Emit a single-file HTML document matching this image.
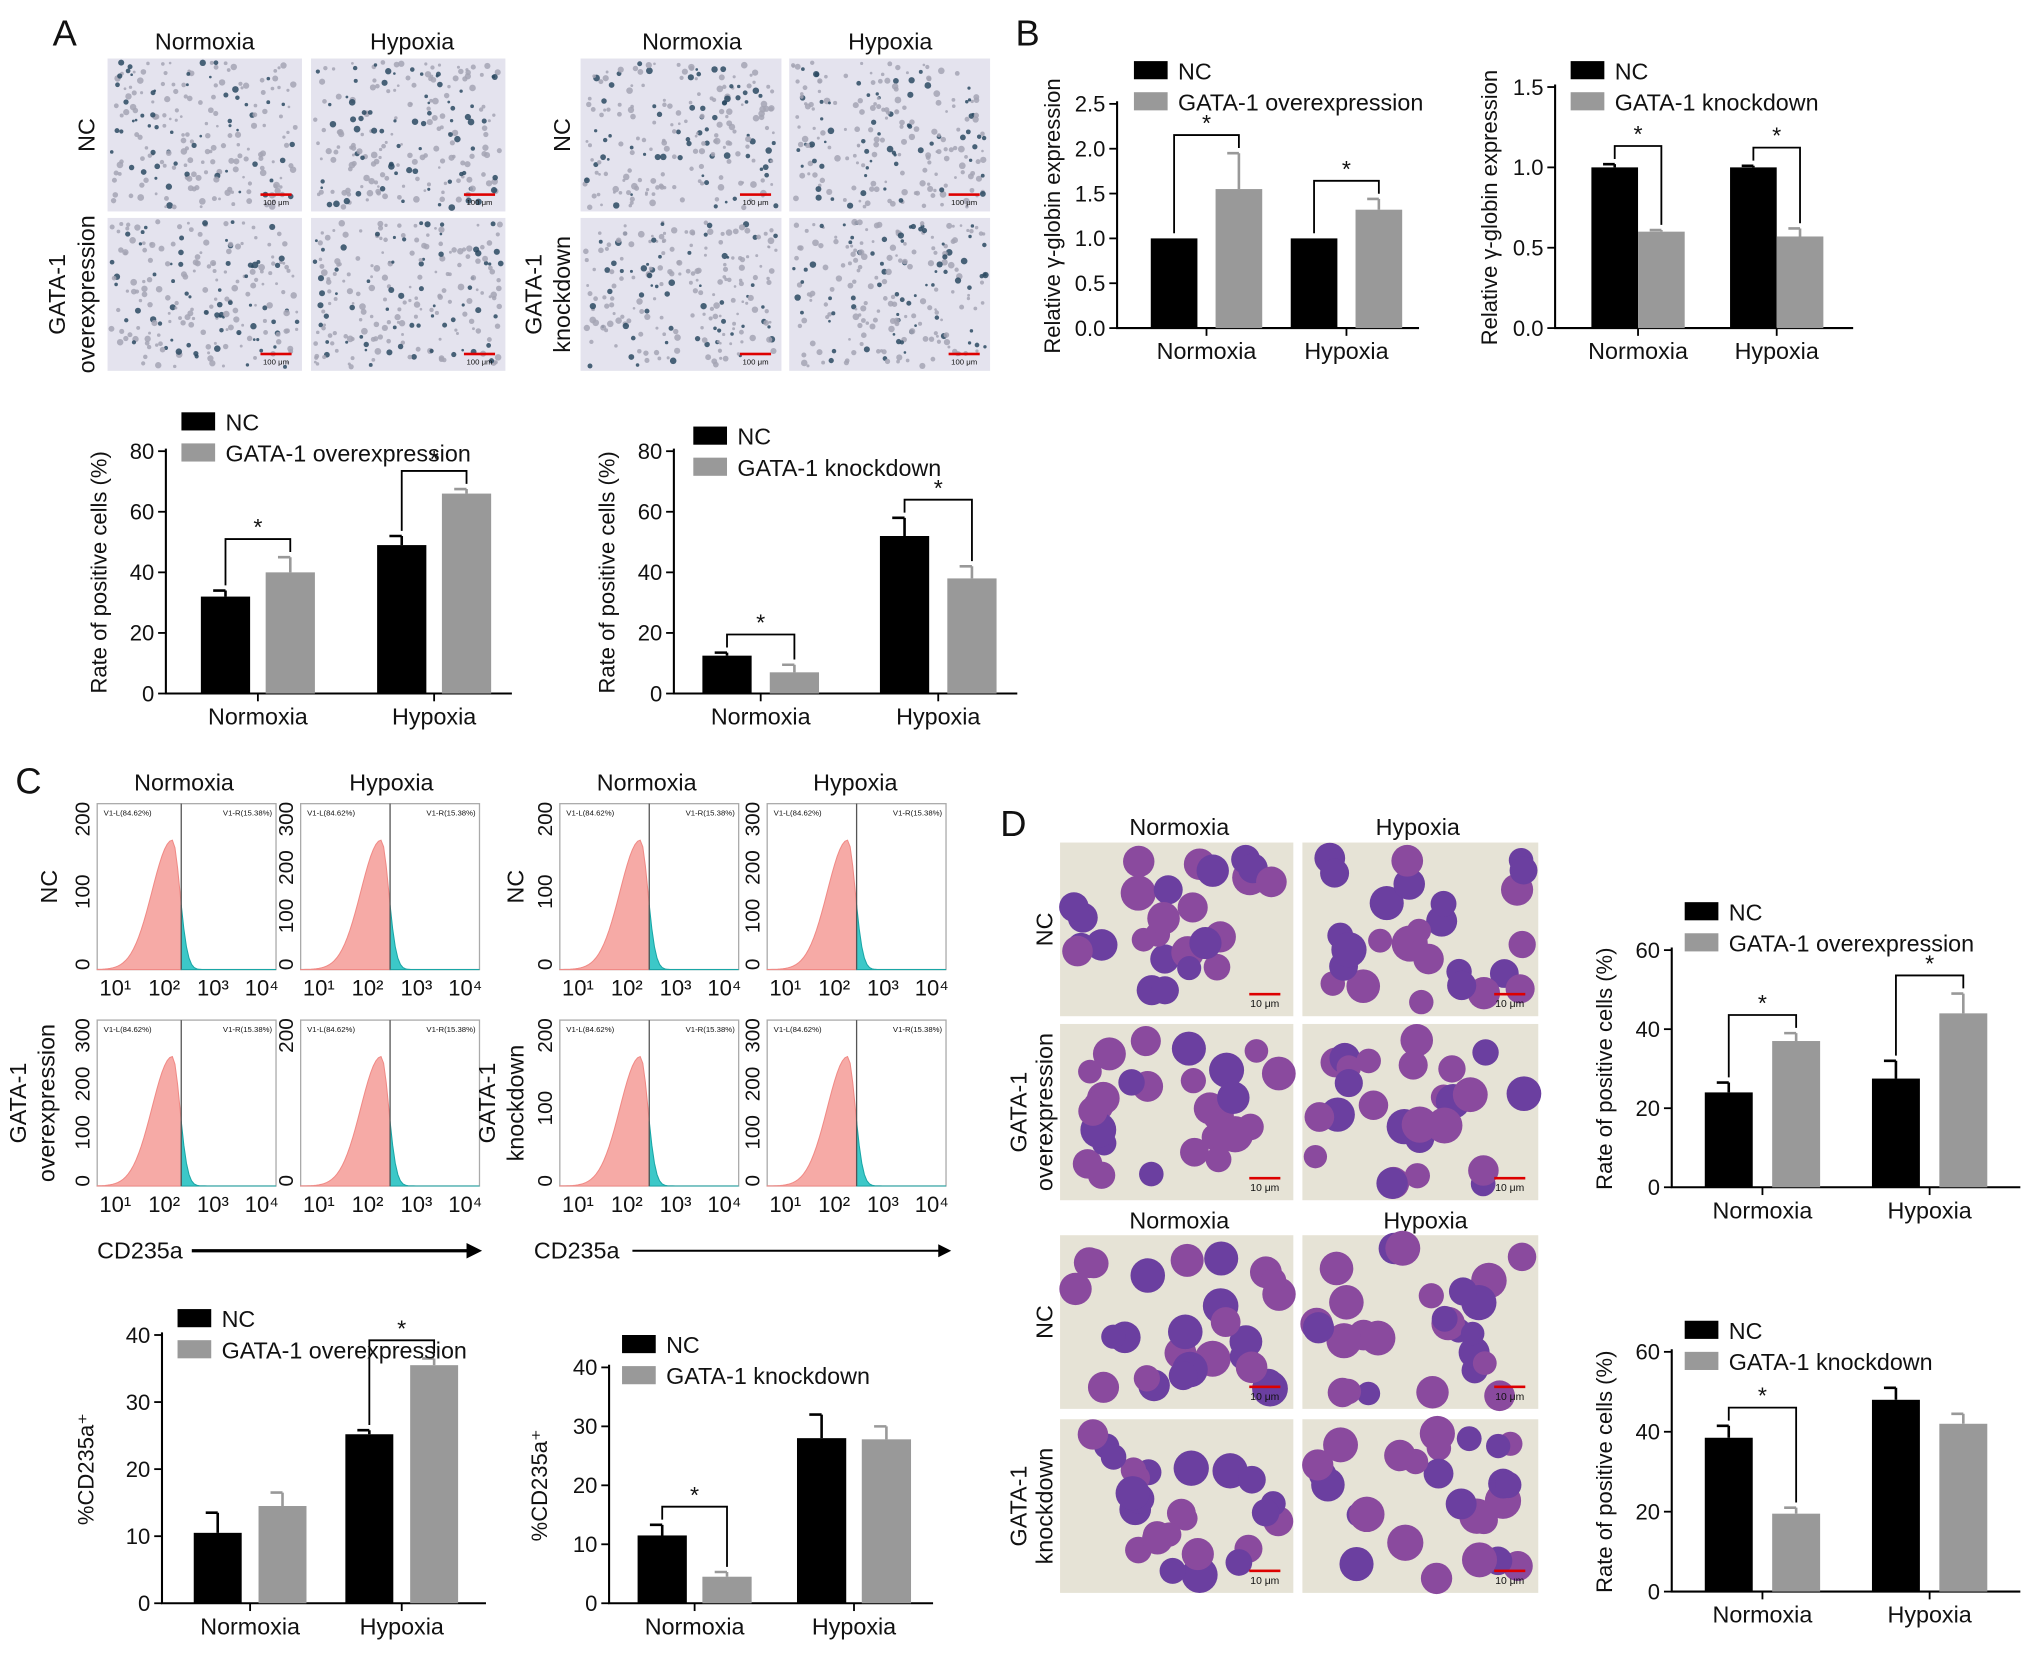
<!DOCTYPE html>
<html><head><meta charset="utf-8"><style>
html,body{margin:0;padding:0;background:#fff}
svg{display:block}
text{font-family:"Liberation Sans",sans-serif;fill:#111}
</style></head><body>
<svg id="fig" width="2032" height="1654" viewBox="0 0 1568 1276" xmlns="http://www.w3.org/2000/svg">
<g id="root"></g>
</svg>
<script>
// ---------- Chart data ----------
const categories = ["Normoxia","Hypoxia"];
// Panel A left
const aOverNC = [32, 49], aOverNCErr = [2, 3], aOverTr = [40, 66], aOverTrErr = [5, 1.5], aOverSig = [1, 1];
// Panel A right
const aKdNC = [12.5, 52], aKdNCErr = [1, 6], aKdTr = [7, 38], aKdTrErr = [2.5, 4], aKdSig = [1, 1];
const rateTicks80 = [0, 20, 40, 60, 80];
// Panel B
const bOverNC = [1.0, 1.0], bOverNCErr = [0, 0], bOverTr = [1.55, 1.32], bOverTrErr = [0.4, 0.12], bOverSig = [1, 1];
const bTicksOver = ["0.0","0.5","1.0","1.5","2.0","2.5"];
const bKdNC = [1.0, 1.0], bKdNCErr = [0.02, 0.01], bKdTr = [0.6, 0.57], bKdTrErr = [0.01, 0.05], bKdSig = [1, 1];
const bTicksKd = ["0.0","0.5","1.0","1.5"];
// Panel C
const cOverNC = [10.5, 25.2], cOverNCErr = [3, 0.6], cOverTr = [14.5, 35.5], cOverTrErr = [2, 1], cOverSig = [0, 1];
const cKdNC = [11.5, 28], cKdNCErr = [1.8, 4], cKdTr = [4.5, 27.8], cKdTrErr = [0.8, 2.2], cKdSig = [1, 0];
const cTicks = [0, 10, 20, 30, 40];
// Panel D
const dOverNC = [24, 27.5], dOverNCErr = [2.5, 4.5], dOverTr = [37, 44], dOverTrErr = [2, 5], dOverSig = [1, 1];
const dKdNC = [38.5, 48], dKdNCErr = [3, 3], dKdTr = [19.5, 42], dKdTrErr = [1.5, 2.5], dKdSig = [1, 0];
const dTicks = [0, 20, 40, 60];

const NS = "http://www.w3.org/2000/svg";
const root = document.getElementById("root");
function el(tag, attrs, parent, txt){
  const e = document.createElementNS(NS, tag);
  for (const k in attrs) e.setAttribute(k, attrs[k]);
  if (txt !== undefined) e.textContent = txt;
  (parent || root).appendChild(e);
  return e;
}
function txt(x,y,s,size,parent,anchor,rot,name){
  const t = el("text",{x:x,y:y,"font-size":size,"text-anchor":anchor||"middle"},parent,s);
  if (rot) t.setAttribute("transform","rotate("+rot+" "+x+" "+y+")");
  
  
  return t;
}

function barChart(name, L, nc, ncE, tr, trE, sig, ticks, tickLabels, maxV, ylabel, legend2){
  const g = el("g",{});
  
  
  const yS = v => L.y0 - (v / maxV) * (L.y0 - L.yTop);
  const ax = el("path",{d:`M${L.x0} ${L.yTop-2} V${L.y0} H${L.xEnd}`,stroke:"#000","stroke-width":1.6,fill:"none"},g);
  
  
  ticks.forEach((tv,i)=>{
    const y = yS(tv);
    el("line",{x1:L.x0-6,x2:L.x0,y1:y,y2:y,stroke:"#000","stroke-width":1.4},g);
    txt(L.x0-9, y+6, tickLabels[i], 17, g, "end", 0, "y-tick-label");
  });
  txt(L.ylx, (L.y0+L.yTop)/2, ylabel, 17, g, "middle", -90, "y-axis-title");
  categories.forEach((c,i)=>{
    const gc = L.centers[i];
    el("line",{x1:gc,x2:gc,y1:L.y0,y2:L.y0+6,stroke:"#000","stroke-width":1.4},g);
    txt(gc, L.y0+24, c, 18, g, "middle", 0, "x-category-label");
    const xs = [gc - L.off, gc + L.off], vals=[nc[i],tr[i]], errs=[ncE[i],trE[i]], cols=["#000","#999"];
    let tops=[];
    for (let k=0;k<2;k++){
      const yv = yS(vals[k]);
      const r = el("rect",{x:xs[k]-L.bw/2,y:yv,width:L.bw,height:L.y0-yv,fill:cols[k]},g);
      
      
      const ye = yS(vals[k]+errs[k]);
      if (errs[k]>0){
        el("path",{d:`M${xs[k]} ${yv} V${ye} M${xs[k]-L.bw/4} ${ye} H${xs[k]}`,stroke:cols[k],"stroke-width":2,fill:"none"},g);
      }
      tops.push(ye);
    }
    if (sig[i]){
      const top = Math.min(tops[0],tops[1]) - 14;
      const br = el("path",{d:`M${xs[0]} ${tops[0]-4} V${top} H${xs[1]} V${tops[1]-4}`,stroke:"#000","stroke-width":1.4,fill:"none"},g);
      
      
      txt(gc, top-3, "*", 18, g, "middle", 0, "significance-star");
    }
  });
  const lg = el("g",{},g);
  
  
  el("rect",{x:L.lx,y:L.ly-8,width:26,height:14,fill:"#000"},lg);
  txt(L.lx+34, L.ly+6, "NC", 18, lg, "start", 0, "legend-entry");
  el("rect",{x:L.lx,y:L.ly+16,width:26,height:14,fill:"#999"},lg);
  txt(L.lx+34, L.ly+30, legend2, 18, lg, "start", 0, "legend-entry");
}

// ---------- Micrographs ----------
let seed = 7;
function rnd(){ seed = (seed*16807)%2147483647; return seed/2147483647; }
function microA(x,y,w,h,name){
  const g = el("g",{});  
  el("rect",{x:x,y:y,width:w,height:h,fill:"#e4e3ee"},g);
  for(let i=0;i<220;i++){
    const dark = rnd()<0.3;
    el("circle",{cx:x+3+rnd()*(w-6),cy:y+3+rnd()*(h-6),r:1+rnd()*1.6,fill:dark?"#2c4a62":"#a4a4b4",opacity:0.85},g);
  }
  el("rect",{x:x+w-32,y:y+h-14,width:24,height:2,fill:"#d00"},g);
  el("text",{x:x+w-20,y:y+h-5,"font-size":6,"text-anchor":"middle",fill:"#d00"},g,"100 μm");
}
function microD(x,y,w,h,name){
  const g = el("g",{});  
  el("rect",{x:x,y:y,width:w,height:h,fill:"#e6e3d6"},g);
  for(let i=0;i<26;i++){
    const cx=x+10+rnd()*(w-20), cy=y+10+rnd()*(h-20), r=9+rnd()*5;
    el("circle",{cx:cx,cy:cy,r:r,fill:rnd()<0.5?"#6b3fa0":"#8a4a9e"},g);
  }
  el("rect",{x:x+w-34,y:y+h-18,width:24,height:2,fill:"#d00"},g);
  el("text",{x:x+w-22,y:y+h-7,"font-size":8,"text-anchor":"middle",fill:"#000"},g,"10 μm");
}
function flow(x,y,w,h,yl,gate,name){
  const g = el("g",{});  
  el("rect",{x:x,y:y,width:w,height:h,fill:"none",stroke:"#aaa","stroke-width":1},g);
  const gx = x + w*gate;
  const peak = x + w*(gate-0.05);
  const f = px => {
    const s = px<peak ? w*0.16 : w*0.06;
    return y+h - Math.exp(-Math.pow((px-peak)/s,2))*(h*0.78);
  };
  let dp = `M${x} ${y+h}`;
  for(let px=x; px<=gx; px+=2) dp += ` L${px} ${f(px)}`;
  dp += ` L${gx} ${f(gx)} L${gx} ${y+h} Z`;
  let dt = `M${gx} ${y+h} L${gx} ${f(gx)}`;
  for(let px=gx; px<=x+w; px+=2) dt += ` L${px} ${f(px)}`;
  dt += ` L${x+w} ${y+h} Z`;
  el("path",{d:dp,fill:"#f6aaa6",stroke:"#f08a86","stroke-width":0.8},g);
  el("path",{d:dt,fill:"#3cc8c8",stroke:"#1aa6a6","stroke-width":0.8},g);
  el("line",{x1:gx,x2:gx,y1:y,y2:y+h,stroke:"#555","stroke-width":1},g);
  el("text",{x:x+5,y:y+9,"font-size":6,fill:"#e55"},g,"V1-L(84.62%)");
  el("text",{x:x+w-3,y:y+9,"font-size":6,fill:"#2aa","text-anchor":"end"},g,"V1-R(15.38%)");
  ["10¹","10²","10³","10⁴"].forEach((s,i)=>{ txt(x+10+i*(w-25)/3+4, y+h+20, s, 17, g, "middle", 0, "x-tick-label"); });
  yl.forEach((s,i)=>{ txt(x-6, y+h-4-i*(h-10)/(yl.length-1)*0.95, s, 16, g, "middle", -90, "y-tick-label"); });
}

[["A",50,35],["B",793,35],["C",22,612],["D",782,645]].forEach(p=>txt(p[1],p[2],p[0],28,null,"middle",0,"panel-label-"+p[0].toLowerCase()));

[["Normoxia",158,38],["Hypoxia",318,38],["Normoxia",534,38],["Hypoxia",687,38]].forEach(c=>txt(c[1],c[2],c[0],18,null,"middle",0,"column-header"));
microA(83,45,150,118,"micrograph-a-nc-normoxia");microA(240,45,150,118,"micrograph-a-nc-hypoxia");
microA(83,168,150,118,"micrograph-a-over-normoxia");microA(240,168,150,118,"micrograph-a-over-hypoxia");
microA(448,45,155,118,"micrograph-a-kdnc-normoxia");microA(609,45,155,118,"micrograph-a-kdnc-hypoxia");
microA(448,168,155,118,"micrograph-a-kd-normoxia");microA(609,168,155,118,"micrograph-a-kd-hypoxia");
txt(73,104,"NC",18,null,"middle",-90,"row-label");
txt(50,227,"GATA-1",18,null,"middle",-90,"row-label");txt(73,227,"overexpression",18,null,"middle",-90,"row-label");
txt(440,104,"NC",18,null,"middle",-90,"row-label");
txt(418,227,"GATA-1",18,null,"middle",-90,"row-label");txt(440,227,"knockdown",18,null,"middle",-90,"row-label");

[["Normoxia",142,610],["Hypoxia",302,610],["Normoxia",499,610],["Hypoxia",660,610]].forEach(c=>txt(c[1],c[2],c[0],18,null,"middle",0,"column-header"));
flow(75,620,138,128,["0","100","200"],0.47,"flow-over-nc-normoxia");
flow(232,620,138,128,["0","100","200","300"],0.5,"flow-over-nc-hypoxia");
flow(432,620,138,128,["0","100","200"],0.5,"flow-kd-nc-normoxia");
flow(592,620,138,128,["0","100","200","300"],0.5,"flow-kd-nc-hypoxia");
flow(75,787,138,128,["0","100","200","300"],0.47,"flow-over-normoxia");
flow(232,787,138,128,["0","200"],0.5,"flow-over-hypoxia");
flow(432,787,138,128,["0","100","200"],0.5,"flow-kd-normoxia");
flow(592,787,138,128,["0","100","200","300"],0.5,"flow-kd-hypoxia");
txt(44,684,"NC",18,null,"middle",-90,"row-label");
txt(20,851,"GATA-1",18,null,"middle",-90,"row-label");txt(42,851,"overexpression",18,null,"middle",-90,"row-label");
txt(404,684,"NC",18,null,"middle",-90,"row-label");
txt(382,851,"GATA-1",18,null,"middle",-90,"row-label");txt(404,851,"knockdown",18,null,"middle",-90,"row-label");
txt(75,971,"CD235a",18,null,"start",0,"x-axis-title");
el("path",{d:"M148 965 H362",stroke:"#000","stroke-width":2.5});el("path",{d:"M372 965 l-12 -6 v12 z",fill:"#000"});
txt(412,971,"CD235a",18,null,"start",0,"x-axis-title");
el("path",{d:"M488 965 H725",stroke:"#000","stroke-width":1.5});el("path",{d:"M734 965 l-10 -5 v10 z",fill:"#000"});

[["Normoxia",910,644],["Hypoxia",1094,644],["Normoxia",910,948],["Hypoxia",1100,948]].forEach(c=>txt(c[1],c[2],c[0],18,null,"middle",0,"column-header"));
microD(818,650,180,134,"micrograph-d-nc-normoxia");microD(1005,650,182,134,"micrograph-d-nc-hypoxia");
microD(818,790,180,136,"micrograph-d-over-normoxia");microD(1005,790,182,136,"micrograph-d-over-hypoxia");
microD(818,953,180,134,"micrograph-d-kdnc-normoxia");microD(1005,953,182,134,"micrograph-d-kdnc-hypoxia");
microD(818,1095,180,134,"micrograph-d-kd-normoxia");microD(1005,1095,182,134,"micrograph-d-kd-hypoxia");
txt(812,717,"NC",18,null,"middle",-90,"row-label");
txt(792,858,"GATA-1",18,null,"middle",-90,"row-label");txt(812,858,"overexpression",18,null,"middle",-90,"row-label");
txt(812,1020,"NC",18,null,"middle",-90,"row-label");
txt(792,1162,"GATA-1",18,null,"middle",-90,"row-label");txt(812,1162,"knockdown",18,null,"middle",-90,"row-label");

barChart("chart-a-overexpression",{x0:128,y0:535,yTop:348,xEnd:395,centers:[199,335],off:25,bw:38,ylx:82,lx:140,ly:326},
  aOverNC,aOverNCErr,aOverTr,aOverTrErr,aOverSig,rateTicks80,rateTicks80.map(String),80,"Rate of positive cells (%)","GATA-1 overexpression");
barChart("chart-a-knockdown",{x0:520,y0:535,yTop:348,xEnd:785,centers:[587,724],off:26,bw:38,ylx:474,lx:535,ly:337},
  aKdNC,aKdNCErr,aKdTr,aKdTrErr,aKdSig,rateTicks80,rateTicks80.map(String),80,"Rate of positive cells (%)","GATA-1 knockdown");
barChart("chart-b-overexpression",{x0:862,y0:253,yTop:80,xEnd:1095,centers:[931,1039],off:25,bw:36,ylx:818,lx:875,ly:55},
  bOverNC,bOverNCErr,bOverTr,bOverTrErr,bOverSig,[0,0.5,1,1.5,2,2.5],bTicksOver,2.5,"Relative γ-globin expression","GATA-1 overexpression");
barChart("chart-b-knockdown",{x0:1200,y0:253,yTop:67,xEnd:1430,centers:[1264,1371],off:18,bw:36,ylx:1155,lx:1212,ly:55},
  bKdNC,bKdNCErr,bKdTr,bKdTrErr,bKdSig,[0,0.5,1,1.5],bTicksKd,1.5,"Relative γ-globin expression","GATA-1 knockdown");
barChart("chart-c-overexpression",{x0:125,y0:1237,yTop:1030,xEnd:375,centers:[193,310],off:25,bw:37,ylx:72,lx:137,ly:1018},
  cOverNC,cOverNCErr,cOverTr,cOverTrErr,cOverSig,cTicks,cTicks.map(String),40,"%CD235a⁺","GATA-1 overexpression");
barChart("chart-c-knockdown",{x0:470,y0:1237,yTop:1055,xEnd:720,centers:[536,659],off:25,bw:38,ylx:422,lx:480,ly:1038},
  cKdNC,cKdNCErr,cKdTr,cKdTrErr,cKdSig,cTicks,cTicks.map(String),40,"%CD235a⁺","GATA-1 knockdown");
barChart("chart-d-overexpression",{x0:1290,y0:916,yTop:733,xEnd:1559,centers:[1360,1489],off:26,bw:37,ylx:1244,lx:1300,ly:704},
  dOverNC,dOverNCErr,dOverTr,dOverTrErr,dOverSig,dTicks,dTicks.map(String),60,"Rate of positive cells (%)","GATA-1 overexpression");
barChart("chart-d-knockdown",{x0:1290,y0:1228,yTop:1043,xEnd:1559,centers:[1360,1489],off:26,bw:37,ylx:1244,lx:1300,ly:1027},
  dKdNC,dKdNCErr,dKdTr,dKdTrErr,dKdSig,dTicks,dTicks.map(String),60,"Rate of positive cells (%)","GATA-1 knockdown");
</script>
</body></html>
